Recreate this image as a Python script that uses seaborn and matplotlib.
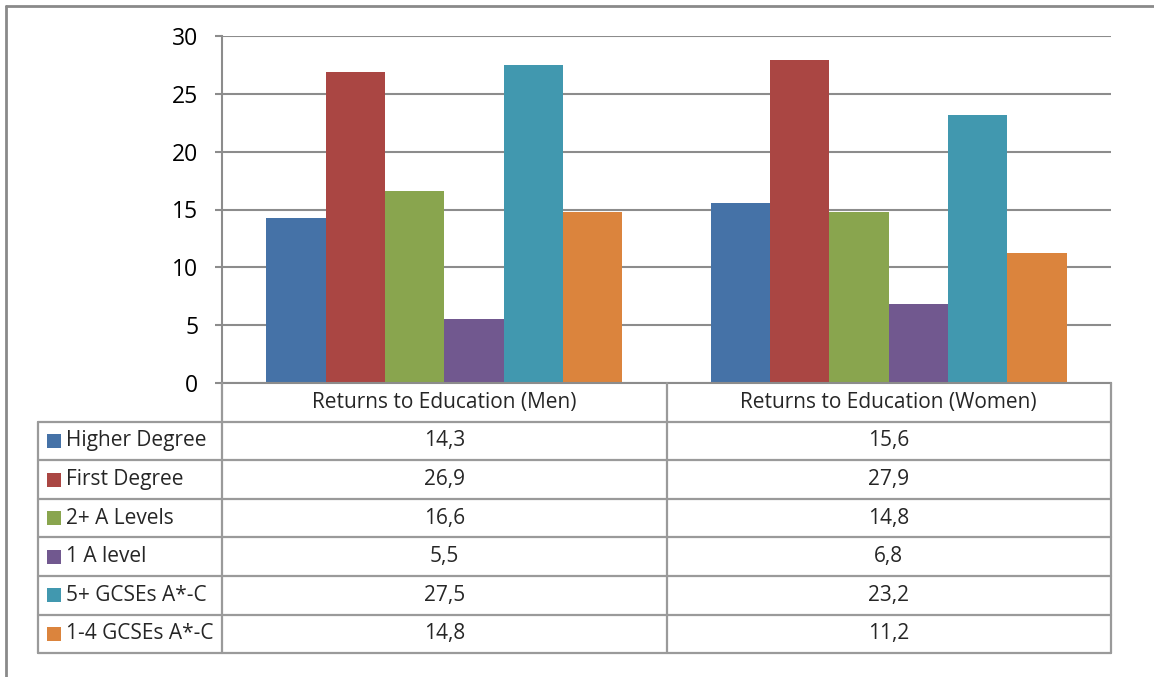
import seaborn as sns
import pandas as pd
import matplotlib.pyplot as plt

# Values
groups = ['Returns to Education (Men)', 'Returns to Education (Women)']
levels = ['Higher Degree', 'First Degree', '2+ A Levels', '1 A level',
          '5+ GCSEs A*-C', '1-4 GCSEs A*-C']
men = [14.3, 26.9, 16.6, 5.5, 27.5, 14.8]
women = [15.6, 27.9, 14.8, 6.8, 23.2, 11.2]
colors = ['#4572A7', '#AA4643', '#89A54E', '#71588F', '#4198AF', '#DB843D']

data = pd.DataFrame({
    'Group': [groups[0]] * len(levels) + [groups[1]] * len(levels),
    'Level': levels * 2,
    'Value': men + women,
})

sns.set_style('white')
plt.rcParams['font.family'] = ['Open Sans', 'DejaVu Sans']

W, H = 1154, 677
fig = plt.figure(figsize=(W / 100, H / 100), dpi=100)

# plot area in pixel coordinates
left, right, top, bottom = 222, 1111, 36, 383
ax = fig.add_axes([left / W, 1 - bottom / H, (right - left) / W, (bottom - top) / H])

sns.barplot(data=data, x='Group', y='Value', hue='Level', order=groups,
            hue_order=levels, palette=colors, saturation=1, width=0.8,
            linewidth=0, legend=False, ax=ax)

grid_c = '#8C8C8C'
ax.set_ylim(0, 30)
ax.set_xlim(-0.5, 1.5)
ax.set_yticks(range(0, 31, 5))
ax.yaxis.grid(True, color=grid_c, linewidth=1.5)
ax.set_axisbelow(True)
ax.set_xlabel('')
ax.set_ylabel('')
ax.set_xticks([])
for s in ['top', 'right']:
    ax.spines[s].set_visible(False)
ax.spines['left'].set_color(grid_c)
ax.spines['left'].set_linewidth(1.5)
ax.spines['bottom'].set_color(grid_c)
ax.spines['bottom'].set_linewidth(1.5)
ax.tick_params(axis='y', left=True, length=5, width=1.5, color=grid_c,
               pad=12, labelsize=16.5, labelcolor='black')

# overlay in pixel coords for the data table and the outer frame
ov = fig.add_axes([0, 0, 1, 1], zorder=3)
ov.set_xlim(0, W)
ov.set_ylim(H, 0)
ov.axis('off')
ov.patch.set_alpha(0)

line_c = '#9A9A9A'
lw = 1.6
fs = 15
mid = (left + right) / 2
tab_left = 38
row_h = 38.6
rows_top = bottom + row_h
tab_bottom = rows_top + row_h * len(levels)

ov.plot([left, left], [bottom, tab_bottom], color=line_c, lw=lw)
ov.plot([mid, mid], [bottom, tab_bottom], color=line_c, lw=lw)
ov.plot([right, right], [bottom, tab_bottom], color=line_c, lw=lw)
ov.plot([tab_left, tab_left], [rows_top, tab_bottom], color=line_c, lw=lw)
for i in range(len(levels) + 1):
    y = rows_top + i * row_h
    ov.plot([tab_left, right], [y, y], color=line_c, lw=lw)

centers = [(left + mid) / 2, (mid + right) / 2]
for g, cx in zip(groups, centers):
    ov.text(cx, bottom + row_h / 2, g, ha='center', va='center', fontsize=fs)

for i, lev in enumerate(levels):
    yc = rows_top + (i + 0.5) * row_h
    ov.add_patch(plt.Rectangle((47, yc - 7), 14, 14, color=colors[i], lw=0))
    ov.text(66, yc, lev, ha='left', va='center', fontsize=fs)
    for vals, cx in zip([men, women], centers):
        ov.text(cx, yc, f'{vals[i]:.1f}'.replace('.', ','), ha='center',
                va='center', fontsize=fs)

# outer chart frame (left and top edges visible)
ov.plot([6, 6], [6, H], color='#8A8A8A', lw=2)
ov.plot([6, W], [6, 6], color='#8A8A8A', lw=2)

fig.savefig('out.png', dpi=100)
